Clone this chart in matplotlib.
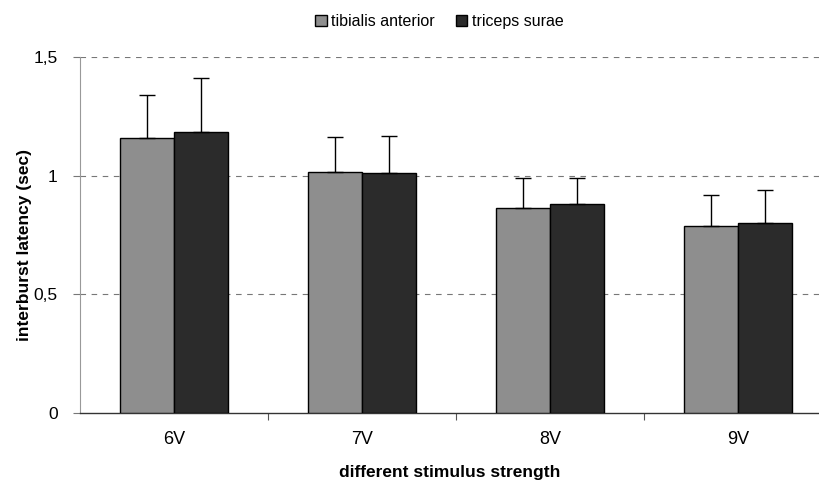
import numpy as np
import matplotlib.pyplot as plt
import matplotlib as mpl

mpl.rcParams['font.family'] = ['Liberation Sans', 'DejaVu Sans']
mpl.rcParams['font.size'] = 11

# data
categories = ['6V', '7V', '8V', '9V']
tibialis = [1.16, 1.015, 0.865, 0.79]
tibialis_err = [0.18, 0.15, 0.125, 0.13]
triceps = [1.183, 1.012, 0.88, 0.802]
triceps_err = [0.23, 0.155, 0.11, 0.14]
yticks = [0, 0.5, 1, 1.5]
ytick_labels = ['0', '0,5', '1', '1,5']

fig = plt.figure(figsize=(8.2, 4.8), dpi=100)
ax = fig.add_axes([0.0976, 0.1396, 0.9024, 0.7414])

x = np.arange(len(categories))
w = 0.288
err_kw = dict(ecolor='black', elinewidth=1.0, capsize=6, capthick=1.0)
ax.bar(x - w / 2, tibialis, w, color='#8e8e8e', edgecolor='black', linewidth=1.0,
       yerr=[np.zeros(4), tibialis_err], error_kw=err_kw, label='tibialis anterior', zorder=3)
ax.bar(x + w / 2, triceps, w, color='#2b2b2b', edgecolor='black', linewidth=1.0,
       yerr=[np.zeros(4), triceps_err], error_kw=err_kw, label='triceps surae', zorder=3)

ax.set_xlim(-0.5, 3.436)
ax.set_ylim(0, 1.5)
ax.set_yticks(yticks)
ax.set_yticklabels(ytick_labels, fontsize=12.5)
for yv in yticks[1:]:
    ax.axhline(yv, color='#777777', linestyle=(0, (5, 5)), linewidth=0.8, zorder=1)

# category labels without ticks, ticks at boundaries
ax.set_xticks(x)
ax.set_xticklabels(categories, fontsize=13)
ax.tick_params(axis='x', length=0, pad=13)
ax.set_xticks(np.arange(-0.5, 3.5, 1.0)[1:], minor=True)
ax.tick_params(axis='x', which='minor', length=5, width=0.8, color='#555555', direction='out')
ax.tick_params(axis='y', length=5, width=0.8, color='#777777', pad=11)

for s in ['top', 'right']:
    ax.spines[s].set_visible(False)
ax.spines['left'].set_color('#999999')
ax.spines['left'].set_linewidth(0.8)
ax.spines['bottom'].set_color('#333333')
ax.spines['bottom'].set_linewidth(1.0)

ax.set_xlabel('different stimulus strength', fontsize=12.5, fontweight='bold')
ax.set_ylabel('interburst latency (sec)', fontsize=12.5, fontweight='bold')
ax.xaxis.set_label_coords(0.5, -0.146)
ax.yaxis.set_label_coords(-0.065, 0.472)

fig.legend(loc='upper center', bbox_to_anchor=(0.536, 1.0), ncol=2, frameon=False,
           handlelength=0.7, handleheight=0.7, handletextpad=0.3, columnspacing=1.3,
           fontsize=11.5)

fig.savefig('out.png', dpi=100)
